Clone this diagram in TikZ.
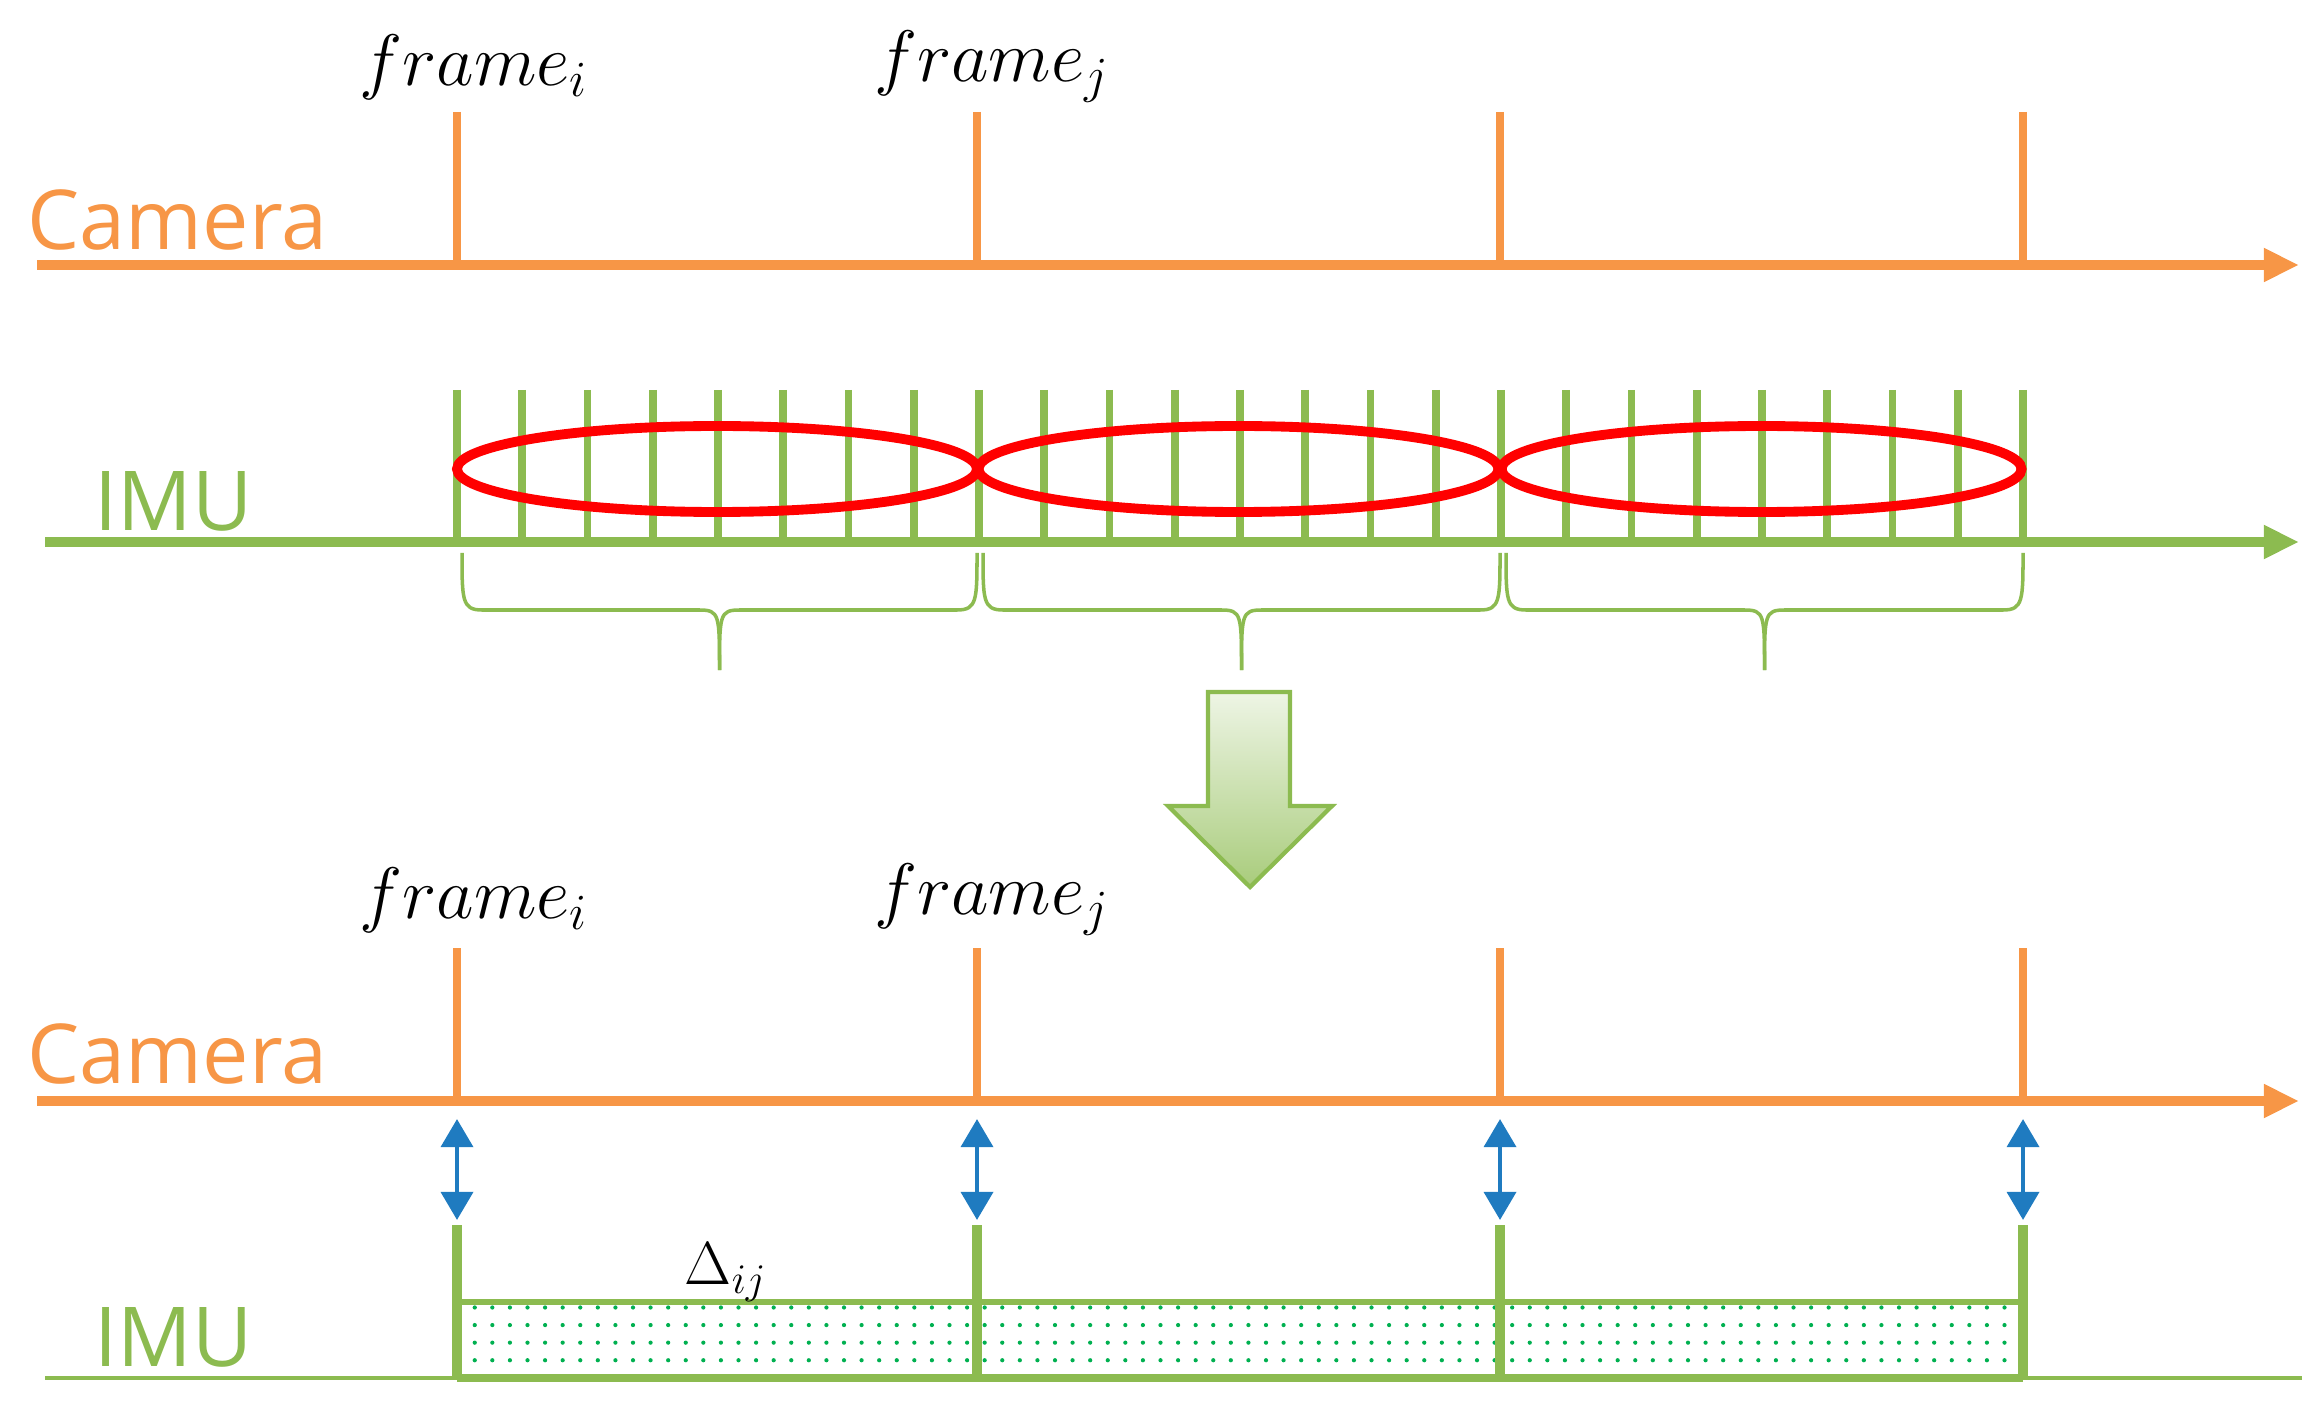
\documentclass[tikz,border=0pt]{standalone}
\usepackage{fontspec}
\newfontfamily\sansf{Open Sans}
\usetikzlibrary{patterns.meta,arrows.meta}
\definecolor{cam}{HTML}{F79646}
\definecolor{imu}{HTML}{8CBB50}
\definecolor{blu}{HTML}{1F7BC0}
\definecolor{dotg}{HTML}{00B050}
\begin{document}
\begin{tikzpicture}[x=0.01cm,y=-0.01cm,
  camax/.style={cam,line width=2.6pt,-{Triangle[length=10pt,width=9pt]}},
  camtick/.style={cam,line width=2.2pt},
  imutick/.style={imu,line width=2.2pt},
  lbl/.style={font=\sansf\fontsize{23.5}{28}\selectfont,anchor=base west,inner sep=0},
  fr/.style={font=\fontsize{20}{24}\selectfont,inner sep=0},
  ell/.style={red,line width=2.8pt},
  br/.style={imu,line width=1pt},
  dbl/.style={blu,line width=1.4pt,{Triangle[length=8pt,width=9pt]}-{Triangle[length=8pt,width=9pt]}}]
\useasboundingbox (0,0) rectangle (2316,1413);
% ---- top camera
\node[lbl,text=cam] (cam1) at (27,250) {Camera};
\coordinate (c1s) at (37,265); \coordinate (c1e) at (2299,265);
\draw[camax] (c1s) -- (c1e);
\foreach \x in {457,977,1500,2023} \draw[camtick] (\x,112) -- (\x,265);
\node[fr] (fi1) at (474,67) {$frame_i$};
\node[fr] (fj1) at (992,67) {$frame_j$};
% ---- top imu
\node[lbl,text=imu] (imu1) at (94,531) {IMU};
\coordinate (i1s) at (45,542); \coordinate (i1e) at (2299,542);
\draw[imu,line width=2.6pt,-{Triangle[length=10pt,width=9pt]}] (i1s) -- (i1e);
\foreach \k in {0,...,24} \draw[imutick] ({457+\k*65.25},390) -- ({457+\k*65.25},542);
\foreach \c in {717,1238.5,1761.5} \draw[ell] (\c,469) ellipse [x radius=260, y radius=43];
% braces
\foreach \a/\b in {462/977,983/1500,1506/2023}{
  \pgfmathsetmacro\m{(\a+\b)/2}
  \draw[br] (\a,553) .. controls (\a,600) and (\a,610) .. (\a+20,610) -- (\m-20,610) .. controls (\m,610) and (\m,615) .. (\m,670);
  \draw[br] (\b,553) .. controls (\b,600) and (\b,610) .. (\b-20,610) -- (\m+20,610) .. controls (\m,610) and (\m,615) .. (\m,670);
}
% big arrow
\path[top color=imu!15,bottom color=imu!75,draw=imu,line width=1.2pt]
  (1208,692) -- (1290,692) -- (1290,806) -- (1332,806) -- (1250,887) -- (1168,806) -- (1208,806) -- cycle;
% ---- bottom camera
\node[lbl,text=cam] (cam2) at (27,1083) {Camera};
\coordinate (c2s) at (37,1101); \coordinate (c2e) at (2299,1101);
\draw[camax] (c2s) -- (c2e);
\foreach \x in {457,977,1500,2023} \draw[camtick] (\x,948) -- (\x,1101);
\node[fr] (fi2) at (474,900) {$frame_i$};
\node[fr] (fj2) at (992,900) {$frame_j$};
\foreach \x in {457,977,1500,2023} \draw[dbl] (\x,1119) -- (\x,1220);
% ---- bottom imu
\node[lbl,text=imu] (imu2) at (94,1366) {IMU};
\draw[pattern={Dots[radius=0.6pt,distance=5pt]},pattern color=dotg] (457,1302) rectangle (2023,1378);
\draw[imu,line width=1.6pt] (457,1302) -- (2023,1302);
\draw[imu,line width=1.1pt] (45,1378) -- (2302,1378);
\draw[imu,line width=2.2pt] (457,1378) -- (2023,1378);
\foreach \x in {457,977,1500,2023} \draw[imu,line width=2.6pt] (\x,1225) -- (\x,1378);
\node[font=\fontsize{17}{20}\selectfont,inner sep=0] (dij) at (726,1272) {$\Delta_{ij}$};
\end{tikzpicture}
\end{document}
